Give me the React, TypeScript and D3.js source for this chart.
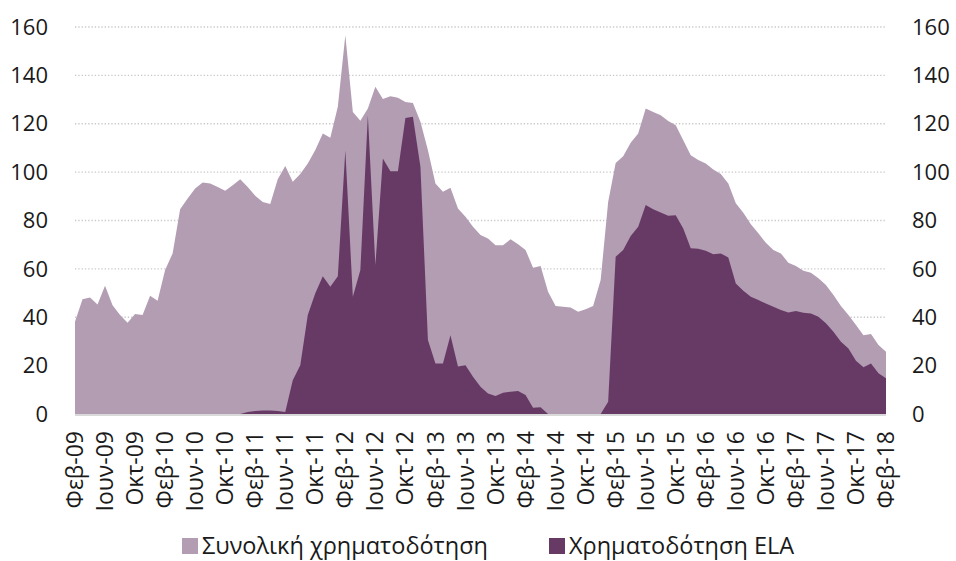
import { useEffect, useRef } from 'react';
import * as d3 from 'd3';

// monthly, Φεβ-09 .. Φεβ-18 (109 months)
const tickLabels = [
  'Φεβ-09', 'Ιουν-09', 'Οκτ-09', 'Φεβ-10', 'Ιουν-10', 'Οκτ-10', 'Φεβ-11',
  'Ιουν-11', 'Οκτ-11', 'Φεβ-12', 'Ιουν-12', 'Οκτ-12', 'Φεβ-13', 'Ιουν-13',
  'Οκτ-13', 'Φεβ-14', 'Ιουν-14', 'Οκτ-14', 'Φεβ-15', 'Ιουν-15', 'Οκτ-15',
  'Φεβ-16', 'Ιουν-16', 'Οκτ-16', 'Φεβ-17', 'Ιουν-17', 'Οκτ-17', 'Φεβ-18',
];

const totalFunding = [
  38.1, 47.4, 48.2, 45.3, 53, 45, 40.9, 37.7, 41.3, 40.9, 48.9, 46.8,
  59.5, 66.4, 84.7, 89.1, 93.2, 95.7, 95.3, 93.9, 92.3, 94.6, 97.1, 93.9,
  90.2, 87.7, 86.8, 97.1, 102.5, 96, 99.2, 103.6, 109.1, 116, 114.2, 127,
  156.6, 124.9, 121.2, 126.3, 135.3, 130.2, 131.4, 130.7, 129, 128.6, 120.8, 109,
  95.3, 91.9, 93.5, 85, 81.5, 77.4, 74, 72.6, 69.8, 69.8, 72.2, 70.2,
  67.8, 60.5, 61.2, 50.5, 44.6, 44.3, 44, 42.3, 43.3, 44.6, 55.4, 87.7,
  103.8, 106.6, 112.1, 116, 126.3, 124.9, 123.5, 121.1, 119.4, 113.2, 107, 105,
  103.6, 101.1, 99.2, 95.3, 87.1, 83.2, 78.5, 74.7, 70.8, 67.8, 66.4, 62.5,
  61.2, 59.2, 58.4, 56.1, 53.3, 49.2, 44.6, 40.9, 36.8, 32.6, 33.1, 28.5,
  25.7,
];

const elaFunding = [
  0, 0, 0, 0, 0, 0, 0, 0, 0, 0, 0, 0,
  0, 0, 0, 0, 0, 0, 0, 0, 0, 0, 0, 0.8,
  1.2, 1.4, 1.4, 1.2, 0.8, 14, 20.2, 40.9, 49.9, 57, 52.6, 57,
  109, 48.5, 59.5, 123.5, 61.6, 105.6, 100.4, 100.4, 122.4, 122.9, 102.2, 30.6,
  20.9, 20.9, 32.6, 19.6, 20.2, 15.4, 11.3, 8.5, 7.4, 8.8, 9.2, 9.5,
  7.9, 2.6, 2.8, 0, 0, 0, 0, 0, 0, 0, 0, 5.1,
  65, 67.8, 73.6, 77.4, 86.4, 84.7, 83.3, 82, 82.2, 76.7, 68.5, 68.3,
  67.5, 66, 66.4, 64.7, 54, 51, 48.5, 47.1, 45.7, 44.3, 43, 42,
  42.6, 41.9, 41.6, 40.2, 37.5, 34, 29.9, 27.1, 22, 19.3, 20.9, 16.8,
  14.8,
];

const yTicks = [0, 20, 40, 60, 80, 100, 120, 140, 160];

const legendItems = [
  { label: 'Συνολική χρηματοδότηση', color: '#b39db3' },
  { label: 'Χρηματοδότηση ELA', color: '#673a66' },
];

const App = () => {
  const svgRef = useRef(null);

  useEffect(() => {
    document.body.style.margin = '0';
    const width = 956;
    const height = 561;
    const font = "'Open Sans', 'Noto Sans', sans-serif";
    const textColor = '#1a1a1a';

    const svg = d3.select(svgRef.current);
    svg.selectAll('*').remove();

    const x = d3.scaleLinear().domain([0, totalFunding.length - 1]).range([75, 886]);
    const y = d3.scaleLinear().domain([0, 160]).range([414, 27]);

    // dotted gridlines
    svg
      .append('g')
      .selectAll('line')
      .data(yTicks.filter((d) => d > 0))
      .join('line')
      .attr('x1', x(0))
      .attr('x2', x(totalFunding.length - 1))
      .attr('y1', (d) => y(d))
      .attr('y2', (d) => y(d))
      .attr('stroke', '#c8c8c8')
      .attr('stroke-width', 1.3)
      .attr('stroke-dasharray', '1.3,2');

    const area = d3
      .area<number>()
      .x((d, i) => x(i))
      .y0(y(0))
      .y1((d) => y(d));

    svg.append('path').datum(totalFunding).attr('d', area).attr('fill', legendItems[0].color);
    svg.append('path').datum(elaFunding).attr('d', area).attr('fill', legendItems[1].color);

    // baseline
    svg
      .append('line')
      .attr('x1', x(0))
      .attr('x2', x(totalFunding.length - 1))
      .attr('y1', y(0) + 1)
      .attr('y2', y(0) + 1)
      .attr('stroke', '#d9d9d9')
      .attr('stroke-width', 2);

    // y labels both sides
    const yLabels = svg
      .append('g')
      .attr('font-family', font)
      .attr('font-size', 22)
      .attr('fill', textColor);
    yLabels
      .selectAll('text.left')
      .data(yTicks)
      .join('text')
      .attr('class', 'left')
      .attr('x', 48)
      .attr('y', (d) => y(d))
      .attr('dy', '0.35em')
      .attr('text-anchor', 'end')
      .text((d) => d);
    yLabels
      .selectAll('text.right')
      .data(yTicks)
      .join('text')
      .attr('class', 'right')
      .attr('x', 912)
      .attr('y', (d) => y(d))
      .attr('dy', '0.35em')
      .attr('text-anchor', 'start')
      .text((d) => d);

    // x labels, every 4 months, rotated
    svg
      .append('g')
      .attr('font-family', font)
      .attr('font-size', 23)
      .attr('fill', textColor)
      .selectAll('text')
      .data(tickLabels)
      .join('text')
      .attr('transform', (d, i) => `translate(${x(i * 4)},431) rotate(-90)`)
      .attr('dy', '0.35em')
      .attr('text-anchor', 'end')
      .text((d) => d);

    // legend
    const legend = svg.append('g').attr('font-family', font).attr('font-size', 23.5).attr('fill', textColor);
    const legendX = [182, 549];
    legendItems.forEach((item, i) => {
      legend
        .append('rect')
        .attr('x', legendX[i])
        .attr('y', 538)
        .attr('width', 16)
        .attr('height', 16)
        .attr('fill', item.color);
      legend
        .append('text')
        .attr('x', legendX[i] + 20)
        .attr('y', 545.5)
        .attr('dy', '0.35em')
        .text(item.label);
    });

    svg.attr('width', width).attr('height', height);
  }, []);

  return <svg ref={svgRef} width={956} height={561} style={{ display: 'block' }}></svg>;
};

export default App;
